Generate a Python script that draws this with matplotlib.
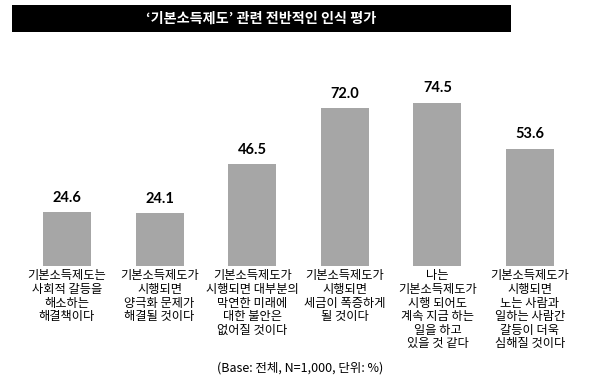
import matplotlib
matplotlib.use("Agg")
import matplotlib.pyplot as plt
from matplotlib.patches import Rectangle

plt.rcParams['font.family'] = ['Noto Sans CJK KR', 'DejaVu Sans']

title = "‘기본소득제도’ 관련 전반적인 인식 평가"
note = "(Base: 전체, N=1,000, 단위: %)"

labels = [
    "기본소득제도는\n사회적 갈등을\n해소하는\n해결책이다",
    "기본소득제도가\n시행되면\n양극화 문제가\n해결될 것이다",
    "기본소득제도가\n시행되면 대부분의\n막연한 미래에\n대한 불안은\n없어질 것이다",
    "기본소득제도가\n시행되면\n세금이 폭증하게\n될 것이다",
    "나는\n기본소득제도가\n시행 되어도\n계속 지금 하는\n일을 하고\n있을 것 같다",
    "기본소득제도가\n시행되면\n노는 사람과\n일하는 사람간\n갈등이 더욱\n심해질 것이다",
]
values = [24.6, 24.1, 46.5, 72.0, 74.5, 53.6]

fig = plt.figure(figsize=(6, 3.84), dpi=100)

# title bar
fig.patches.append(Rectangle((0.02, 0.9167), 0.832, 0.0703, transform=fig.transFigure,
                             facecolor='black', edgecolor='none', zorder=0))
fig.text(0.436, 0.951, title, color='white', fontsize=10.2, fontweight='bold',
         ha='center', va='center')

ax = fig.add_axes([0, 0.307, 1, 0.5703])
x = range(len(values))
ax.bar(x, values, width=0.518, color='#a6a6a6', edgecolor='none')
ax.set_xlim(-0.7235, 5.756)
ax.set_ylim(0, 100)
ax.axis('off')

for i, v in enumerate(values):
    ax.text(i, v + 3.5, f"{v:.1f}", ha='center', va='bottom', fontsize=10.5,
            fontweight='bold', family=['Lato', 'DejaVu Sans'])
    ax.text(i, -1.5, labels[i], ha='center', va='top', fontsize=8.8,
            linespacing=1.06, clip_on=False)

fig.text(0.5, 0.042, note, ha='center', va='center', fontsize=9)

fig.savefig("out.png", dpi=100)
